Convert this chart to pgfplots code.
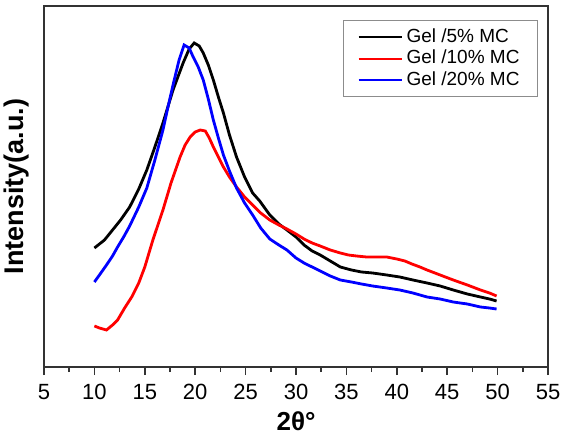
\documentclass[border=0pt]{standalone}
\usepackage{fontspec}
\setmainfont{Liberation Sans}
\usepackage{pgfplots}
\usepackage{pgfplotstable}
\pgfplotsset{compat=1.18}

% 2theta vs intensity (a.u.)
\pgfplotstableread{
x y
10.0 119
11.0 127
11.8 137
12.6 147
13.5 160
14.4 178
15.2 197
16.0 220
16.8 244
17.8 277
18.8 304
19.4 318
19.9 324
20.4 321
20.8 314
21.3 302
21.8 287
22.3 270
22.8 254
23.4 232
24.1 210
24.9 190
25.7 174
26.4 166
27.4 152
28.3 143
29.1 137
30.0 130
30.8 122
31.6 116
32.4 112
33.4 106
34.4 100
35.5 97
36.5 95
37.6 94
39.0 92
40.3 90
41.6 87
43.0 84
44.3 81
45.6 77
47.0 73
48.3 70
49.2 68
49.9 66
}\gelfive

\pgfplotstableread{
x y
10.0 41
10.5 39
11.2 37
11.8 42
12.3 47
13.0 59
13.7 70
14.4 84
15.0 100
15.8 127
16.4 145
16.8 157
17.6 184
18.5 210
19.0 222
19.5 230
20.0 235
20.5 237
21.0 236
21.4 229
21.8 220
22.3 210
22.8 200
23.4 190
24.1 180
24.9 170
25.7 162
26.5 154
27.4 147
28.3 142
29.1 138
30.0 133
30.8 128
31.6 124
32.4 121
33.4 117
34.4 114
35.2 112
36.0 111
37.0 110
38.0 110
39.0 110
40.0 108
40.8 106
41.5 103
42.3 100
43.0 97
44.3 92
45.6 87
47.0 82
48.3 77
49.2 74
49.9 71
}\gelten

\pgfplotstableread{
x y
10.0 85
10.5 92
11.2 102
11.8 111
12.3 120
12.9 130
13.5 141
14.4 160
15.2 179
16.0 207
16.8 237
17.3 260
17.8 282
18.4 307
18.9 322
19.4 319
19.8 310
20.3 300
20.8 287
21.3 268
21.8 247
22.3 229
22.8 212
23.4 196
24.1 179
24.9 164
25.7 152
26.5 139
27.4 128
28.3 122
29.1 117
30.0 109
30.8 104
31.6 100
32.4 96
33.4 91
34.4 87
35.5 85
36.5 83
37.6 81
39.0 79
40.3 77
41.6 74
43.0 70
44.3 68
45.6 65
47.0 63
48.3 60
49.2 59
49.9 58
}\geltwenty

\begin{document}
\begin{tikzpicture}
\begin{axis}[
    name=main,
    scale only axis, width=252bp, height=180.5bp,
    xmin=5, xmax=55, ymin=0, ymax=361,
    xtick={5,10,...,55}, minor x tick num=1,
    ytick=\empty,
    xtick pos=bottom, tick align=outside,
    major tick length=4bp, minor tick length=2.5bp,
    axis line style={line width=1bp, black!80},
    every tick/.style={line width=0.8bp, black!80},
    xticklabel style={font=\fontsize{11bp}{13bp}\selectfont, inner sep=0pt, yshift=-4.5bp},
    /pgf/number format/assume math mode=true,
    xlabel={2θ°}, ylabel={Intensity(a.u.)},
    label style={inner sep=0pt},
    xlabel style={font=\fontsize{13bp}{15bp}\selectfont\bfseries,
        at={(axis description cs:0.5,0)}, anchor=north, yshift=-22bp},
    ylabel style={font=\fontsize{13.5bp}{16bp}\selectfont\bfseries,
        at={(axis description cs:0,0.5)}, anchor=south, yshift=7bp},
    legend style={at={(axis description cs:1,1)}, xshift=-5bp, yshift=-7bp,
        anchor=north east, draw=black!45, line width=0.5bp,
        font=\fontsize{9.5bp}{11bp}\selectfont, row sep=-1.5bp,
        inner xsep=7bp, inner ysep=2bp},
    legend cell align=left,
    legend image code/.code={\draw[mark repeat=2,mark phase=2,#1,line width=1bp]
        plot coordinates {(0bp,0bp) (10.75bp,0bp) (21.5bp,0bp)};},
  ]
  \addplot[color=black, line width=1.4bp] table {\gelfive};
  \addplot[color=red, line width=1.4bp] table {\gelten};
  \addplot[color=blue, line width=1.4bp] table {\geltwenty};
  \legend{Gel /5\% MC, Gel /10\% MC, Gel /20\% MC}
\end{axis}
% page margins as in the reference
\path ([xshift=-22bp,yshift=-35bp]main.south west) ([xshift=7bp,yshift=3bp]main.north east);
\end{tikzpicture}
\end{document}
